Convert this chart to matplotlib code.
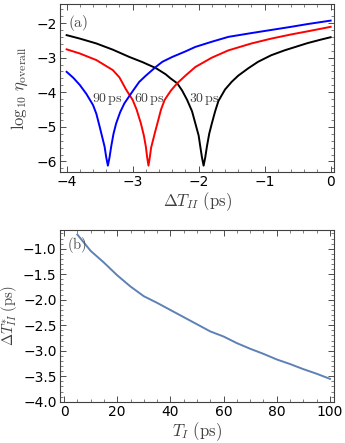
import matplotlib
matplotlib.use("Agg")
import matplotlib.pyplot as plt
from matplotlib.ticker import MultipleLocator

plt.rcParams['font.family'] = ['DejaVu Sans']
plt.rcParams['mathtext.fontset'] = 'cm'

# panel (a): log10 efficiency vs Delta T_II, one curve per T_I
x_30 = [-4.0, -3.8, -3.55, -3.3, -3.05, -2.85, -2.65, -2.5, -2.425, -2.325, -2.25,
        -2.175, -2.1, -2.05, -2.0, -1.975, -1.95, -1.925, -1.9, -1.875, -1.84,
        -1.8, -1.75, -1.7, -1.6, -1.5, -1.4, -1.25, -1.1, -0.9, -0.7, -0.5,
        -0.35, -0.15, 0.0]
y_30 = [-2.35, -2.45, -2.59, -2.77, -2.98, -3.13, -3.30, -3.48, -3.60, -3.74, -3.95,
        -4.22, -4.55, -4.90, -5.25, -5.57, -5.88, -6.12, -5.88, -5.57, -5.20,
        -4.90, -4.55, -4.25, -3.92, -3.70, -3.52, -3.31, -3.12, -2.93, -2.79, -2.67,
        -2.58, -2.48, -2.41]

x_60 = [-4.0, -3.8, -3.55, -3.3, -3.2, -3.1, -3.0, -2.94, -2.875, -2.83, -2.8,
        -2.78, -2.76, -2.74, -2.72, -2.7, -2.66, -2.625, -2.57, -2.515, -2.42,
        -2.325, -2.2, -2.05, -1.8, -1.55, -1.2, -0.9, -0.6, -0.35, 0.0]
y_60 = [-2.76, -2.88, -3.07, -3.36, -3.57, -3.92, -4.22, -4.50, -4.90, -5.25, -5.57,
        -5.88, -6.12, -5.88, -5.60, -5.45, -5.15, -4.90, -4.50, -4.22, -3.95,
        -3.74, -3.52, -3.27, -3.00, -2.79, -2.59, -2.45, -2.33, -2.24, -2.11]

x_90 = [-4.0, -3.9, -3.8, -3.7, -3.6, -3.55, -3.5, -3.46, -3.425, -3.4, -3.375,
        -3.35, -3.325, -3.29, -3.25, -3.19, -3.125, -3.0, -2.9, -2.8, -2.65,
        -2.55, -2.4, -2.2, -2.05, -1.8, -1.55, -1.2, -0.9, -0.6, -0.35, 0.0]
y_90 = [-3.41, -3.58, -3.79, -4.05, -4.37, -4.62, -4.99, -5.30, -5.57, -5.88, -6.12,
        -5.88, -5.57, -5.20, -4.90, -4.58, -4.32, -3.97, -3.70, -3.52, -3.27,
        -3.12, -2.98, -2.82, -2.69, -2.54, -2.40, -2.29, -2.20, -2.11, -2.03, -1.93]

curve_labels = ['90 ps', '60 ps', '30 ps']
label_x = [-3.39, -2.75, -1.91]
label_y = -4.2

# panel (b): optimal Delta T_II vs T_I
t_I = [5, 10, 15, 20, 25, 30, 35, 40, 45, 50, 55, 60, 65, 70, 75, 80, 85, 90, 95, 100]
dT_opt = [-0.72, -1.04, -1.27, -1.52, -1.74, -1.93, -2.06, -2.20, -2.34, -2.48,
          -2.62, -2.72, -2.85, -2.96, -3.06, -3.17, -3.26, -3.36, -3.45, -3.55]

fig = plt.figure(figsize=(3.45, 4.43), dpi=100)
ax1 = fig.add_axes([0.174, 0.612, 0.794, 0.379])
ax2 = fig.add_axes([0.174, 0.093, 0.794, 0.388])


def style(ax):
    for s in ax.spines.values():
        s.set_color('0.25')
        s.set_linewidth(0.8)
    ax.tick_params(which='both', direction='in', top=True, right=True,
                   color='0.3', labelsize=10, labelcolor='black', pad=2.5)
    ax.tick_params(which='major', length=4, width=0.7)
    ax.tick_params(which='minor', length=2, width=0.5)


ax1.plot(x_30, y_30, color='black', lw=1.4)
ax1.plot(x_60, y_60, color='red', lw=1.4)
ax1.plot(x_90, y_90, color='blue', lw=1.4)
for lab, lx in zip(curve_labels, label_x):
    ax1.text(lx, label_y, r'$\mathrm{' + lab.replace(' ', r'\,') + '}$',
             ha='center', va='center', fontsize=10, color='0.25')
ax1.text(0.03, 0.885, r'$\mathrm{(a)}$', transform=ax1.transAxes,
         ha='left', va='center', fontsize=11, color='0.3')
ax1.set_xlim(-4.1, 0.05)
ax1.set_ylim(-6.3, -1.45)
ax1.xaxis.set_major_locator(MultipleLocator(1))
ax1.xaxis.set_minor_locator(MultipleLocator(0.2))
ax1.yaxis.set_major_locator(MultipleLocator(1))
ax1.yaxis.set_minor_locator(MultipleLocator(0.2))
ax1.set_xlabel(r'$\Delta T_{II}\ \mathrm{(ps)}$', fontsize=12, color='0.25', labelpad=1)
ax1.set_ylabel(r'$\log_{10}\,\eta_{\mathrm{overall}}$', fontsize=12, color='0.25')
ax1.yaxis.set_label_coords(-0.11, 0.5)
style(ax1)

ax2.plot(t_I, dT_opt, color='#5E81B5', lw=1.4)
ax2.text(0.025, 0.91, r'$\mathrm{(b)}$', transform=ax2.transAxes,
         ha='left', va='center', fontsize=10.5, color='0.3')
ax2.set_xlim(-1.5, 101.5)
ax2.set_ylim(-4.0, -0.63)
ax2.xaxis.set_major_locator(MultipleLocator(20))
ax2.xaxis.set_minor_locator(MultipleLocator(5))
ax2.yaxis.set_major_locator(MultipleLocator(0.5))
ax2.yaxis.set_minor_locator(MultipleLocator(0.1))
ax2.set_xlabel(r'$T_I\ \mathrm{(ps)}$', fontsize=12, color='0.25', labelpad=1)
ax2.set_ylabel(r'$\Delta T^{*}_{II}\ \mathrm{(ps)}$', fontsize=10.5, color='0.25')
ax2.yaxis.set_label_coords(-0.15, 0.5)
style(ax2)

fig.savefig('out.png', dpi=100)
